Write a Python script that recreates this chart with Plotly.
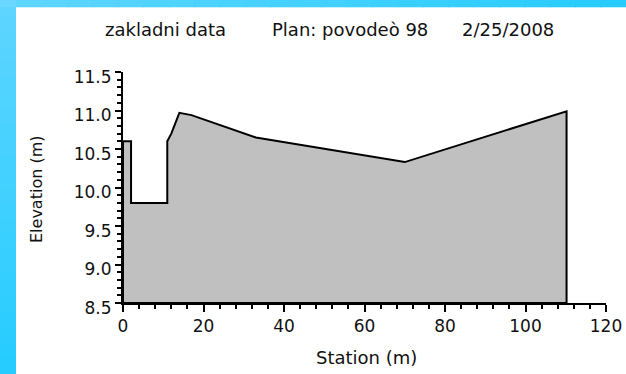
import plotly.graph_objects as go

# ---- data ----
station = [0, 2, 2, 11, 11, 12, 14, 17, 33, 70, 110.2]
elevation = [10.6, 10.6, 9.8, 9.8, 10.6, 10.7, 10.97, 10.94, 10.65, 10.33, 10.99]
x_range = [0, 120]
y_range = [8.5, 11.5]
x_tick_step = 20
y_tick_step = 0.5
title_parts = ["zakladni data", "Plan: povodeò 98", "2/25/2008"]
x_title = "Station (m)"
y_title = "Elevation (m)"

W, H = 626, 374
L, R, T, B = 123, 20, 72, 71
pw, ph = W - L - R, H - T - B

def px(xp):
    return (xp - L) / pw

def py(yp):
    return (H - B - yp) / ph

base = y_range[0]
poly_x = [station[0]] + station + [station[-1], station[0]]
poly_y = [base] + elevation + [base, base]

FONT = "DejaVu Sans"

fig = go.Figure()
fig.add_trace(go.Scatter(
    x=poly_x, y=poly_y, mode="lines", fill="toself",
    fillcolor="#c0c0c0", line=dict(color="black", width=2),
    hoverinfo="skip", showlegend=False))

shapes = []
# blue gradient frame (left strip and top strip)
n = 24
c0 = (112, 216, 255)
c1 = (38, 204, 255)
def mix(t):
    return "rgb(%d,%d,%d)" % tuple(round(a + (b - a) * t) for a, b in zip(c0, c1))
for i in range(n):
    y0p = i * H / n
    y1p = (i + 1) * H / n + 1
    shapes.append(dict(type="rect", xref="paper", yref="paper", layer="below",
                       x0=px(-2), x1=px(16), y0=py(y1p), y1=py(y0p),
                       fillcolor=mix(0.25 + 0.75 * i / (n - 1)), line=dict(width=0)))
    x0p = 16 + i * (W - 16) / n
    x1p = 16 + (i + 1) * (W - 16) / n + 1
    shapes.append(dict(type="rect", xref="paper", yref="paper", layer="below",
                       x0=px(x0p), x1=px(x1p), y0=py(7.3), y1=py(-2),
                       fillcolor=mix(0.25 + 0.75 * i / (n - 1)), line=dict(width=0)))
shapes.append(dict(type="rect", xref="paper", yref="paper", layer="below",
                   x0=px(-2), x1=px(16), y0=py(7.3), y1=py(-2),
                   fillcolor=mix(0.1), line=dict(width=0)))

annotations = []
for text, xp in zip(title_parts, [103, 270, 460]):
    annotations.append(dict(text=text, xref="paper", yref="paper", x=px(xp), y=py(30),
                            xanchor="left", yanchor="middle", showarrow=False,
                            font=dict(family=FONT, size=18, color="#111")))
annotations.append(dict(text=x_title, xref="paper", yref="paper", x=px(366), y=py(357),
                        xanchor="center", yanchor="middle", showarrow=False,
                        font=dict(family=FONT, size=18, color="#111")))
annotations.append(dict(text=y_title, xref="paper", yref="paper", x=px(36), y=py(190),
                        xanchor="center", yanchor="middle", showarrow=False, textangle=-90,
                        font=dict(family=FONT, size=16, color="#111")))

fig.update_layout(
    width=W, height=H,
    margin=dict(l=L, r=R, t=T, b=B, pad=0),
    paper_bgcolor="white", plot_bgcolor="rgba(0,0,0,0)",
    shapes=shapes, annotations=annotations,
    showlegend=False,
    font=dict(family=FONT, size=17, color="#111"),
)
fig.update_xaxes(
    range=x_range, tickmode="linear", tick0=x_range[0], dtick=x_tick_step,
    showgrid=False, zeroline=False, showline=True, linecolor="black", linewidth=2,
    ticks="outside", ticklen=7, tickwidth=2, tickcolor="black",
    minor=dict(dtick=4, tick0=0, ticks="outside", ticklen=4, tickwidth=2, tickcolor="black", showgrid=False),
    tickfont=dict(family=FONT, size=17, color="#111"), automargin=False, fixedrange=True,
)
fig.update_yaxes(
    range=y_range, tickmode="linear", tick0=y_range[0], dtick=y_tick_step, tickformat=".1f",
    showgrid=False, zeroline=False, showline=True, linecolor="black", linewidth=2,
    ticks="outside", ticklen=6, tickwidth=2, tickcolor="black",
    minor=dict(dtick=0.1, tick0=8.5, ticks="outside", ticklen=4, tickwidth=2, tickcolor="black", showgrid=False),
    tickfont=dict(family=FONT, size=17, color="#111"), ticklabelshift=5,
    automargin=False, fixedrange=True,
)

fig.write_html("out.html", config={"displayModeBar": False})
